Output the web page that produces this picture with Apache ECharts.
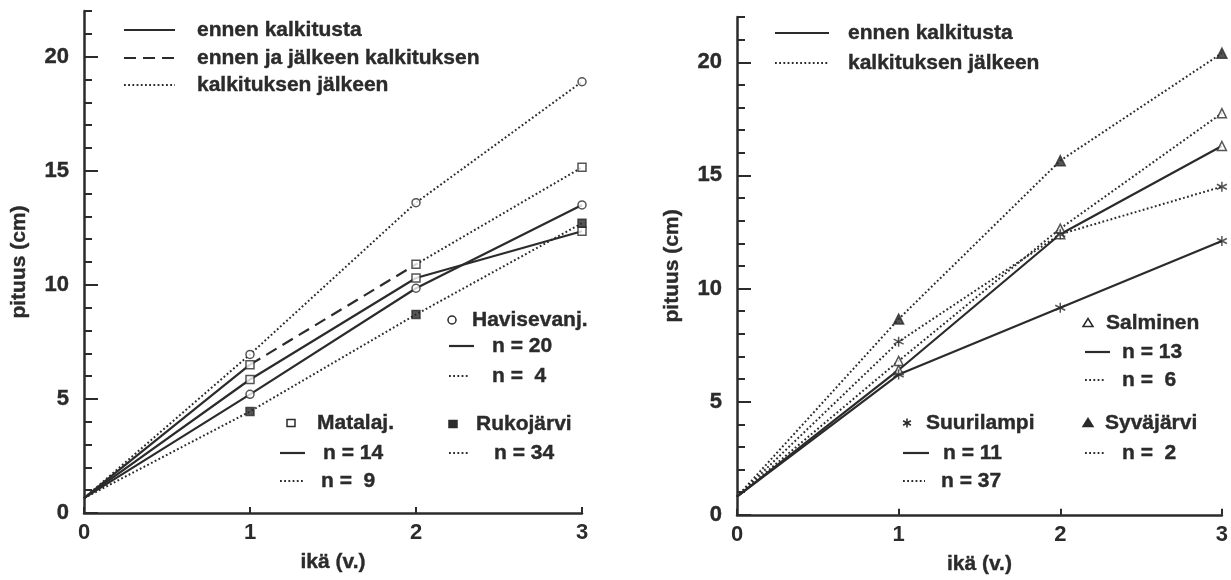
<!DOCTYPE html>
<html>
<head>
<meta charset="utf-8">
<script src="https://cdn.jsdelivr.net/npm/echarts@6/dist/echarts.min.js"></script>
<style>
html,body{margin:0;padding:0;background:#fff;}
#chart{width:1231px;height:580px;}
</style>
</head>
<body>
<div id="chart"></div>
<script>
// ---------- data ----------
const ages = [0, 1, 2, 3];
const xTickLabels = [0, 1, 2, 3];
const yTickLabels = [0, 5, 10, 15, 20];
const yMax = 22;

// Left panel
const havisBefore = [0.65, 5.2, 9.85, 13.5];    // Havisevanj. n = 20 (ennen)
const havisAfter  = [0.65, 6.95, 13.6, 18.9];   // Havisevanj. n = 4 (jälkeen)
const matalaBefore = [0.65, 5.85, 10.3, 12.35]; // Matalaj. n = 14 (ennen)
const matalaMixed  = [0.65, 6.5, 10.9, 15.15];  // Matalaj. n = 9 (ennen / ennen ja jälkeen / jälkeen)
const rukoAfter    = [0.65, 4.45, 8.7, 12.7];   // Rukojärvi n = 34 (jälkeen)

// Right panel
const salmBefore = [0.8, 6.4, 12.4, 16.3];      // Salminen n = 13
const salmAfter  = [0.8, 6.8, 12.65, 17.75];    // Salminen n = 6
const suurBefore = [0.8, 6.2, 9.15, 12.1];      // Suurilampi n = 11
const suurAfter  = [0.8, 7.65, 12.4, 14.5];     // Suurilampi n = 37
const syvaAfter  = [0.8, 8.65, 15.65, 20.4];    // Syväjärvi n = 2

const legendTop1 = ['ennen kalkitusta', 'ennen ja jälkeen kalkituksen', 'kalkituksen jälkeen'];
const legendTop2 = ['ennen kalkitusta', 'kalkituksen jälkeen'];

// ---------- styles ----------
const INK = '#2b2b2b';
const FONT = 'Liberation Sans, Arial, sans-serif';
const LFS = 21;
const DOT = [1.8, 2.4];
const DASH = [12, 7];
const ASTERISK = 'path://M5 0L5 10M0.67 2.5L9.33 7.5M0.67 7.5L9.33 2.5';

function pts(arr, from, to) {
  const out = [];
  for (let i = from; i <= to; i++) out.push([ages[i], arr[i]]);
  return out;
}
function lineStyleOf(kind) {
  if (kind === 'solid') return { color: INK, width: 2.2, type: 'solid' };
  if (kind === 'dashed') return { color: INK, width: 2.2, type: DASH };
  return { color: INK, width: 2, type: DOT };
}
function lineSeries(name, arr, kind, gi, from, to) {
  return {
    name: name, type: 'line', xAxisIndex: gi, yAxisIndex: gi * 2,
    data: pts(arr, from === undefined ? 0 : from, to === undefined ? 3 : to),
    showSymbol: false, symbol: 'none', lineStyle: lineStyleOf(kind),
    silent: true, z: 2, animation: false
  };
}
function markerSeries(name, arr, symbol, filled, gi, size) {
  return {
    name: name + ' m', type: 'scatter', xAxisIndex: gi, yAxisIndex: gi * 2,
    data: pts(arr, 1, 3), symbol: symbol, symbolSize: size || 8,
    itemStyle: { color: filled ? INK : '#fff', borderColor: INK, borderWidth: 1.5 },
    silent: true, z: 5, animation: false
  };
}

const series = [
  lineSeries('havisBefore', havisBefore, 'solid', 0),
  lineSeries('havisAfter', havisAfter, 'dotted', 0),
  lineSeries('matalaBefore', matalaBefore, 'solid', 0),
  lineSeries('matalaMixed a', matalaMixed, 'solid', 0, 0, 1),
  lineSeries('matalaMixed b', matalaMixed, 'dashed', 0, 1, 2),
  lineSeries('matalaMixed c', matalaMixed, 'dotted', 0, 2, 3),
  lineSeries('rukoAfter', rukoAfter, 'dotted', 0),
  markerSeries('havisBefore', havisBefore, 'circle', false, 0),
  markerSeries('havisAfter', havisAfter, 'circle', false, 0),
  markerSeries('matalaBefore', matalaBefore, 'rect', false, 0),
  markerSeries('matalaMixed', matalaMixed, 'rect', false, 0),
  markerSeries('rukoAfter', rukoAfter, 'rect', true, 0),

  lineSeries('salmBefore', salmBefore, 'solid', 1),
  lineSeries('salmAfter', salmAfter, 'dotted', 1),
  lineSeries('suurBefore', suurBefore, 'solid', 1),
  lineSeries('suurAfter', suurAfter, 'dotted', 1),
  lineSeries('syvaAfter', syvaAfter, 'dotted', 1),
  markerSeries('salmBefore', salmBefore, 'triangle', false, 1, 9),
  markerSeries('salmAfter', salmAfter, 'triangle', false, 1, 9),
  markerSeries('suurBefore', suurBefore, ASTERISK, false, 1, 10),
  markerSeries('suurAfter', suurAfter, ASTERISK, false, 1, 10),
  markerSeries('syvaAfter', syvaAfter, 'triangle', true, 1, 10)
];

const minorTicks = [];
for (let v = 0; v <= yMax; v++) if (yTickLabels.indexOf(v) < 0) minorTicks.push(v);

const BOLDER = { textBorderColor: INK, textBorderWidth: 0.4 };

function xAxis(gi) {
  return {
    type: 'value', gridIndex: gi, min: 0, max: 3, interval: 1,
    axisLine: { show: true, lineStyle: { color: INK, width: 2.5 } },
    axisTick: { show: true, inside: true, length: 6, lineStyle: { color: INK, width: 2 },
                customValues: xTickLabels },
    axisLabel: { fontFamily: FONT, fontWeight: 'bold', fontSize: 22, margin: 9,
                 customValues: xTickLabels,
                 color: function (v) { return (gi === 1 && v === 1) ? '#b5b5b5' : INK; } },
    splitLine: { show: false },
    name: 'ikä (v.)', nameLocation: 'middle', nameGap: 39,
    nameTextStyle: Object.assign({ color: INK, fontFamily: FONT, fontWeight: 'bold', fontSize: LFS }, BOLDER)
  };
}
function yAxisMajor(gi) {
  return {
    type: 'value', gridIndex: gi, min: 0, max: yMax,
    axisLine: { show: true, lineStyle: { color: INK, width: 2.5 } },
    axisTick: { show: true, inside: true, length: 14, lineStyle: { color: INK, width: 2 },
                customValues: yTickLabels },
    axisLabel: Object.assign({ color: INK, fontFamily: FONT, fontWeight: 'bold', fontSize: 22, margin: 15,
                 customValues: yTickLabels }, BOLDER),
    splitLine: { show: false },
    name: 'pituus (cm)', nameLocation: 'middle', nameGap: 54, nameRotate: 90,
    nameTextStyle: Object.assign({ color: INK, fontFamily: FONT, fontWeight: 'bold', fontSize: LFS }, BOLDER)
  };
}
function yAxisMinor(gi) {
  return {
    type: 'value', gridIndex: gi, min: 0, max: yMax, position: 'left',
    axisLine: { show: false },
    axisTick: { show: true, inside: true, length: 8, lineStyle: { color: INK, width: 2 },
                customValues: minorTicks },
    axisLabel: { show: false },
    splitLine: { show: false }
  };
}

// ---------- legend graphics ----------
const G = [];
function gLine(x1, x2, y, kind) {
  const ls = lineStyleOf(kind);
  G.push({ type: 'line', silent: true, shape: { x1: x1, y1: y, x2: x2, y2: y },
           style: { stroke: INK, lineWidth: ls.width, lineDash: kind === 'solid' ? null : ls.type } });
}
function gText(x, y, t) {
  G.push({ type: 'text', silent: true, x: x, y: y,
           style: { text: t, fill: INK, font: 'bold ' + LFS + 'px ' + FONT, verticalAlign: 'middle', align: 'left',
                    stroke: INK, lineWidth: 0.4 } });
}
function gSym(kind, cx, cy) {
  const s = { stroke: INK, lineWidth: 1.5, fill: '#fff' };
  if (kind === 'circle') G.push({ type: 'circle', silent: true, shape: { cx: cx, cy: cy, r: 4 }, style: s });
  if (kind === 'rect') G.push({ type: 'rect', silent: true, shape: { x: cx - 4, y: cy - 3.5, width: 8, height: 7 }, style: s });
  if (kind === 'rectF') G.push({ type: 'rect', silent: true, shape: { x: cx - 4, y: cy - 3.5, width: 8, height: 7 }, style: Object.assign({}, s, { fill: INK }) });
  if (kind === 'tri' || kind === 'triF') G.push({ type: 'polygon', silent: true,
      shape: { points: [[cx, cy - 4.5], [cx + 5, cy + 3.5], [cx - 5, cy + 3.5]] },
      style: Object.assign({}, s, { fill: kind === 'triF' ? INK : '#fff' }) });
  if (kind === 'ast') {
    [0, 60, 120].forEach(function (a) {
      const r = a * Math.PI / 180, d = 4.5;
      G.push({ type: 'line', silent: true,
        shape: { x1: cx - d * Math.sin(r), y1: cy - d * Math.cos(r), x2: cx + d * Math.sin(r), y2: cy + d * Math.cos(r) },
        style: { stroke: INK, lineWidth: 1.6 } });
    });
  }
}

// left top legend
gLine(124, 175, 30, 'solid');  gText(197, 30, legendTop1[0]);
gLine(124, 175, 58, 'dashed'); gText(197, 58, legendTop1[1]);
gLine(124, 175, 85, 'dotted'); gText(197, 85, legendTop1[2]);
// left lake legend
gSym('circle', 452, 320); gText(472, 320, 'Havisevanj.');
gLine(449, 474, 346, 'solid');  gText(492, 346, 'n = 20');
gLine(449, 470, 376, 'dotted'); gText(492, 376, 'n =  4');
gSym('rect', 291, 423); gText(317, 423, 'Matalaj.');
gLine(280, 305, 453, 'solid');  gText(323, 453, 'n = 14');
gLine(280, 303, 481, 'dotted'); gText(321, 481, 'n =  9');
gSym('rectF', 453, 424); gText(476, 424, 'Rukojärvi');
gLine(449, 470, 453, 'dotted'); gText(494, 453, 'n = 34');

// right top legend
gLine(775, 829, 33, 'solid');  gText(848, 33, legendTop2[0]);
gLine(775, 829, 63, 'dotted'); gText(848, 63, legendTop2[1]);
// right lake legend
gSym('tri', 1088, 323); gText(1106, 323, 'Salminen');
gLine(1085, 1110, 352, 'solid');  gText(1122, 352, 'n = 13');
gLine(1085, 1106, 380, 'dotted'); gText(1122, 380, 'n =  6');
gSym('ast', 907, 423); gText(926, 423, 'Suurilampi');
gLine(903, 929, 453, 'solid');  gText(943, 453, 'n = 11');
gLine(903, 925, 481, 'dotted'); gText(941, 481, 'n = 37');
gSym('triF', 1088, 423); gText(1105, 423, 'Syväjärvi');
gLine(1085, 1106, 453, 'dotted'); gText(1122, 453, 'n =  2');

const chart = echarts.init(document.getElementById('chart'), null, { renderer: 'canvas' });
chart.setOption({
  animation: false,
  backgroundColor: '#fff',
  grid: [
    { left: 84, top: 11, width: 498, height: 502 },
    { left: 737, top: 17, width: 487, height: 501 }
  ],
  xAxis: [xAxis(0), xAxis(1)],
  yAxis: [yAxisMajor(0), yAxisMinor(0), yAxisMajor(1), yAxisMinor(1)],
  series: series,
  graphic: G
});
</script>
</body>
</html>
